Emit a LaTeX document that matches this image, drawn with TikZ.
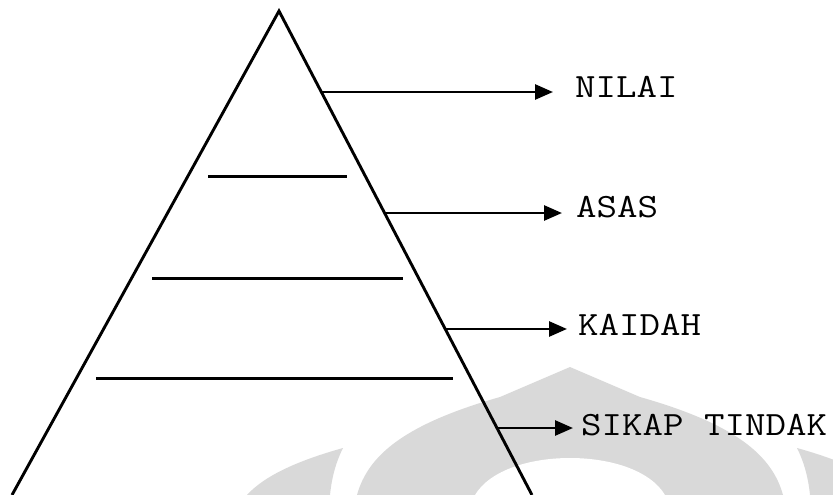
\documentclass[tikz,border=0pt]{standalone}
\usepackage{fontspec}
\usepackage{graphicx}
\usetikzlibrary{arrows.meta,calc}
\newcommand{\typelabel}[1]{\scalebox{1.17}[1]{\ttfamily\fontsize{34}{34}\selectfont #1}}
\begin{document}
\begin{tikzpicture}[x=1pt,y=-1pt,
  edge/.style={line width=2.9pt,black},
  level/.style={line width=3pt,black},
  pointer/.style={line width=2.8pt,black,-{Triangle[length=18pt,width=15pt]}},
  lbl/.style={anchor=base west,inner sep=0pt},
  wm/.style={fill=black!15,draw=none}]
\useasboundingbox (0,0) rectangle (833,495);
\clip (0,0) rectangle (833,495);
% faint watermark
\fill[wm] (357,495) .. controls (368,455) and (405,424) .. (500,397) -- (570,367) -- (640,397)
  .. controls (735,424) and (772,455) .. (783,495) -- cycle;
\fill[white] (475,495) .. controls (490,470) and (530,458) .. (570,458)
  .. controls (610,458) and (650,470) .. (665,495) -- cycle;
\fill[wm] (343,448) .. controls (300,460) and (265,475) .. (247,495) -- (330,495)
  .. controls (332,475) and (337,460) .. cycle;
\fill[wm] (797,448) .. controls (840,460) and (875,475) .. (893,495) -- (810,495)
  .. controls (808,475) and (803,460) .. cycle;
% pyramid
\coordinate (apex) at (279,11);
\coordinate (bl) at (12,495);
\coordinate (br) at (532,495);
\draw[edge] (bl) -- (apex) -- (br);
\coordinate (l1a) at (208,176); \coordinate (l1b) at (347,176);
\coordinate (l2a) at (152,278); \coordinate (l2b) at (403,278);
\coordinate (l3a) at (96,378);  \coordinate (l3b) at (453,378);
\draw[level] (l1a) -- (l1b);
\draw[level] (l2a) -- (l2b);
\draw[level] (l3a) -- (l3b);
% labels
\node[lbl] (nilai) at (575,98) {\typelabel{NILAI}};
\node[lbl] (asas) at (576,217) {\typelabel{ASAS}};
\node[lbl] (kaidah) at (578,335) {\typelabel{KAIDAH}};
\node[lbl] (sikap) at (581,435) {\typelabel{SIKAP TINDAK}};
% arrows
\coordinate (s1) at ($(apex)!0.16736!(br)$);
\coordinate (s2) at ($(apex)!0.41736!(br)$);
\coordinate (s3) at ($(apex)!0.65702!(br)$);
\coordinate (s4) at ($(apex)!0.86157!(br)$);
\coordinate (t1) at (553,92);
\coordinate (t2) at (562,213);
\coordinate (t3) at (567,329);
\coordinate (t4) at (573,428);
\draw[pointer] (s1) -- (s1 -| t1);
\draw[pointer] (s2) -- (s2 -| t2);
\draw[pointer] (s3) -- (s3 -| t3);
\draw[pointer] (s4) -- (s4 -| t4);
\end{tikzpicture}
\end{document}
